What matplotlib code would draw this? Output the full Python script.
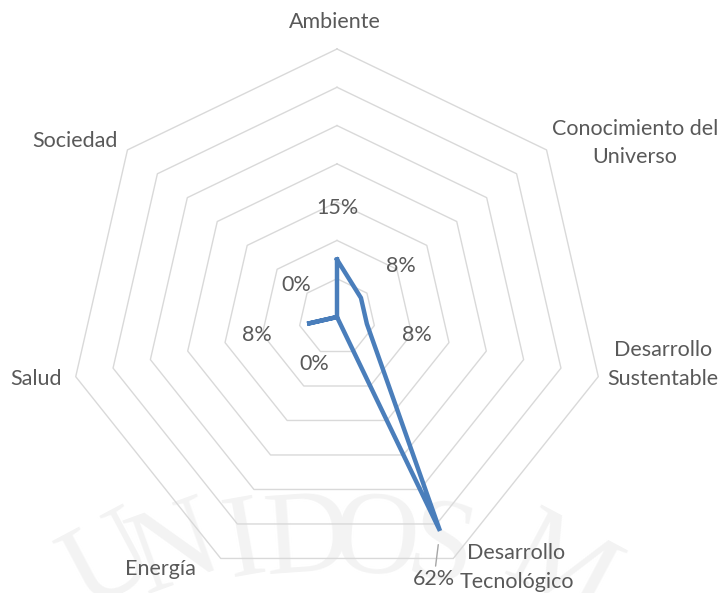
import numpy as np
import matplotlib.pyplot as plt

# data
categories = ["Ambiente", "Conocimiento del\nUniverso", "Desarrollo\nSustentable",
              "Desarrollo\nTecnológico", "Energía", "Salud", "Sociedad"]
values = [0.15, 0.08, 0.08, 0.62, 0.0, 0.08, 0.0]
value_labels = ["15%", "8%", "8%", "62%", "0%", "8%", "0%"]
ring_levels = [0.1, 0.2, 0.3, 0.4, 0.5, 0.6, 0.7]

W, H = 726, 593
plt.rcParams["font.family"] = ["Lato", "DejaVu Sans"]
TXT = "#595959"
GRID = "#d9d9d9"
LINE = "#4a7ebb"
FS = 15.5

fig = plt.figure(figsize=(W / 100, H / 100), dpi=100)

# faint watermark behind the chart
wm_letters = ["U", "N", "I", "D", "O", "S", "M"]
wm_x = [110, 176, 245, 307, 376, 440, 560]
wm_y = [565, 552, 545, 542, 544, 552, 572]
wm_rot = [28, 20, 10, 4, -4, -12, -28]
for ch, x, y, r in zip(wm_letters, wm_x, wm_y, wm_rot):
    fig.text(x / W, 1 - y / H, ch, fontsize=85, family="Liberation Serif",
             color="#f3f3f3", ha="center", va="center", rotation=r, zorder=-5)

cx, cy, R = 337, 317, 268
ax = fig.add_axes([(cx - R) / W, 1 - (cy + R) / H, 2 * R / W, 2 * R / H],
                  projection="polar")
ax.set_zorder(2)
ax.set_facecolor("none")
ax.set_theta_offset(np.pi / 2)
ax.set_theta_direction(-1)
ax.set_ylim(0, 0.7)
ax.axis("off")

n = len(categories)
theta = np.arange(n) * 2 * np.pi / n
theta_c = np.append(theta, theta[0])

for lv in ring_levels:
    ax.plot(theta_c, [lv] * (n + 1), color=GRID, lw=1.0, zorder=1, clip_on=False)

ax.plot(theta_c, values + [values[0]], color=LINE, lw=3.2, zorder=3,
        solid_joinstyle="miter", clip_on=False)

# data labels
for t, v, s in zip(theta, values, value_labels):
    if s == "62%":
        ax.annotate(s, xy=(t, v), xytext=(-6, -48), textcoords="offset pixels",
                    ha="center", va="center", fontsize=FS, color=TXT,
                    arrowprops=dict(arrowstyle="-", color="#a6a6a6", lw=1.0,
                                    shrinkA=0, shrinkB=10), zorder=4)
    else:
        ax.text(t, v + 0.135, s, ha="center", va="center", fontsize=FS, color=TXT,
                zorder=4)

# category labels
offsets = [(-2, 17), (5, 7), (9, 12), (6, -9), (-25, -11), (-14, -2), (-10, 9)]
has = ["center", "left", "left", "left", "right", "right", "right"]
vas = ["bottom", "center", "center", "center", "center", "center", "center"]
for t, c, off, ha, va in zip(theta, categories, offsets, has, vas):
    ax.annotate(c, xy=(t, 0.7), xytext=off, textcoords="offset pixels",
                ha=ha, va=va, multialignment="center", fontsize=FS, color=TXT,
                linespacing=1.55, annotation_clip=False)

fig.savefig("out.png", dpi=100)
